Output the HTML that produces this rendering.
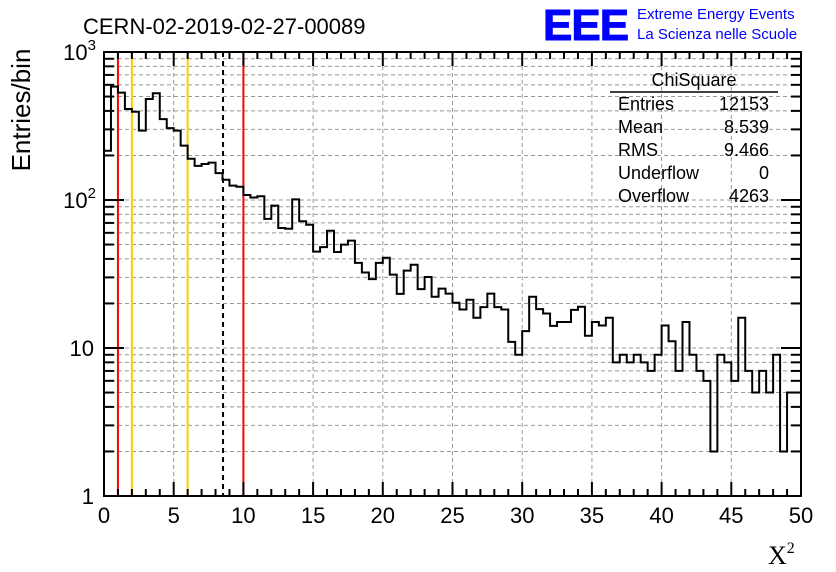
<!DOCTYPE html>
<html><head><meta charset="utf-8">
<style>
body{margin:0;background:#fff;}
svg{display:block;font-family:"Liberation Sans",sans-serif;}
</style></head>
<body>
<svg id="chart" width="836" height="572" viewBox="0 0 836 572">
<rect x="0" y="0" width="836" height="572" fill="#fff"/>
<text x="83" y="34" font-size="22" fill="#000">CERN-02-2019-02-27-00089</text>
<g>
<text x="543" y="40" font-size="44" font-weight="bold" fill="#0000ff" stroke="#0000ff" stroke-width="1" letter-spacing="-1">EEE</text>
<text x="637" y="19" font-size="15" fill="#0000ff">Extreme Energy Events</text>
<text x="637" y="39" font-size="15" fill="#0000ff">La Scienza nelle Scuole</text>
</g>
<g id="grid"></g>
<g id="refs"></g>
<path id="hist" fill="none" stroke="#000" stroke-width="2"/>
<rect x="104" y="52" width="697" height="444" fill="none" stroke="#000" stroke-width="2"/>
<g id="ticks"></g>
<g id="labels" font-size="22"></g>
<text transform="translate(30,110) rotate(-90)" text-anchor="middle" font-size="26">Entries/bin</text>
<text x="768" y="564" font-size="26" font-family="Liberation Serif, serif">X<tspan font-size="16" dy="-11">2</tspan></text>
<g font-size="18">
<text x="694" y="86" text-anchor="middle">ChiSquare</text>
<line x1="610" y1="92" x2="778" y2="92" stroke="#000" stroke-width="1.5"/>
<text x="618" y="110">Entries</text><text x="769" y="110" text-anchor="end">12153</text>
<text x="618" y="133">Mean</text><text x="769" y="133" text-anchor="end">8.539</text>
<text x="618" y="156">RMS</text><text x="769" y="156" text-anchor="end">9.466</text>
<text x="618" y="179">Underflow</text><text x="769" y="179" text-anchor="end">0</text>
<text x="618" y="202">Overflow</text><text x="769" y="202" text-anchor="end">4263</text>
</g>
</svg>
<script>
const binEdgesStart = 0;
const binWidth = 0.5;
const counts = [215,583,531,412,395,294,481,526,352,306,294,233,190,170,175,179,152,137,125,123,
108,104,106,74.5,91.6,64.7,63.9,101,71.8,68,44.8,48,62,44.5,49.9,53.1,37.6,32.4,29.2,37.6,
40.7,31.3,23.2,33.3,36.5,25,30.2,22.2,25.2,23.3,20.2,18.2,21.2,16,18.9,23.3,18.9,18.2,11,9,
13,22.2,18.3,17.1,14.1,15,15,18.1,19,12.1,15,14.2,16,8,9,8,9,8,7,9,
14.2,11.1,7,15,9,7,6,2,9,8,6,16,7,5,7,5,9,2,5,5];
const xTickLabels = [0,5,10,15,20,25,30,35,40,45,50];
const yDecades = [0,1,2,3];
const redLines = [1,10];
const orangeLines = [2,6];
const meanLine = [8.539];

const X0=104,X1=801,Y0=496,Y1=52;
const xs = v => X0 + (v-0)/(50-0)*(X1-X0);
const ys = v => Y0 - Math.log10(Math.max(v,1e-9))/3*(Y0-Y1);
const NS="http://www.w3.org/2000/svg";
function mk(tag,parent){const e=document.createElementNS(NS,tag);document.getElementById(parent).appendChild(e);return e;}

xTickLabels.forEach(t=>{ if(t>0&&t<50){
 const l=mk('line','grid');
 
 
 l.setAttribute('x1',xs(t));l.setAttribute('x2',xs(t));l.setAttribute('y1',Y1);l.setAttribute('y2',Y0);
 l.setAttribute('stroke','#999');l.setAttribute('stroke-dasharray','4,3');}});
for(let d=0;d<3;d++){for(let m=1;m<=9;m++){const v=m*Math.pow(10,d); if(v<=1||v>=1000) continue;
 const l=mk('line','grid');
 
 
 l.setAttribute('x1',X0);l.setAttribute('x2',X1);l.setAttribute('y1',ys(v));l.setAttribute('y2',ys(v));
 l.setAttribute('stroke','#999');l.setAttribute('stroke-dasharray','4,3');}}

function vline(v,color,dash,name){const l=mk('line','refs');
 
 
 l.setAttribute('x1',xs(v));l.setAttribute('x2',xs(v));l.setAttribute('y1',Y1);l.setAttribute('y2',Y0);
 l.setAttribute('stroke',color);l.setAttribute('stroke-width','2');if(dash)l.setAttribute('stroke-dasharray',dash);}
redLines.forEach(v=>vline(v,'#ff0000',null,'red-cut-line'));
orangeLines.forEach(v=>vline(v,'#ffcc00',null,'orange-cut-line'));
meanLine.forEach(v=>vline(v,'#000',"5,4",'mean-line'));

let d='M'+xs(binEdgesStart)+','+Y0;
counts.forEach((c,i)=>{const a=xs(binEdgesStart+i*binWidth),b=xs(binEdgesStart+(i+1)*binWidth);
 d+=' L'+a+','+ys(c)+' L'+b+','+ys(c);});
d+=' L'+xs(binEdgesStart+counts.length*binWidth)+','+Y0;
document.getElementById('hist').setAttribute('d',d);

function tl(x1,y1,x2,y2){const l=mk('line','ticks');
 
 
 l.setAttribute('x1',x1);l.setAttribute('y1',y1);l.setAttribute('x2',x2);l.setAttribute('y2',y2);l.setAttribute('stroke','#000');l.setAttribute('stroke-width','2');}
for(let t=0;t<=50;t++){const len=(t%5==0)?14:7;tl(xs(t),Y0,xs(t),Y0-len);tl(xs(t),Y1,xs(t),Y1+len);}
for(let d2=0;d2<3;d2++){for(let m=1;m<=10;m++){const v=m*Math.pow(10,d2);const len=(m==1||m==10)?20:10;
 tl(X0,ys(v),X0+len,ys(v));tl(X1,ys(v),X1-len,ys(v));}}

xTickLabels.forEach(t=>{const e=mk('text','labels');
 
 
 e.setAttribute('x',xs(t));e.setAttribute('y',523);e.setAttribute('text-anchor','middle');e.textContent=t;});
yDecades.forEach(p=>{const e=mk('text','labels');
 
 
 e.setAttribute('x',94);e.setAttribute('y',ys(Math.pow(10,p))+8);e.setAttribute('text-anchor','end');
 if(p==0)e.textContent='1';else if(p==1)e.textContent='10';
 else{e.textContent='10';const s=document.createElementNS(NS,'tspan');s.setAttribute('font-size','15');s.setAttribute('dy','-10');s.textContent=p;e.appendChild(s);e.setAttribute('x',96);}});
</script>
</body></html>
